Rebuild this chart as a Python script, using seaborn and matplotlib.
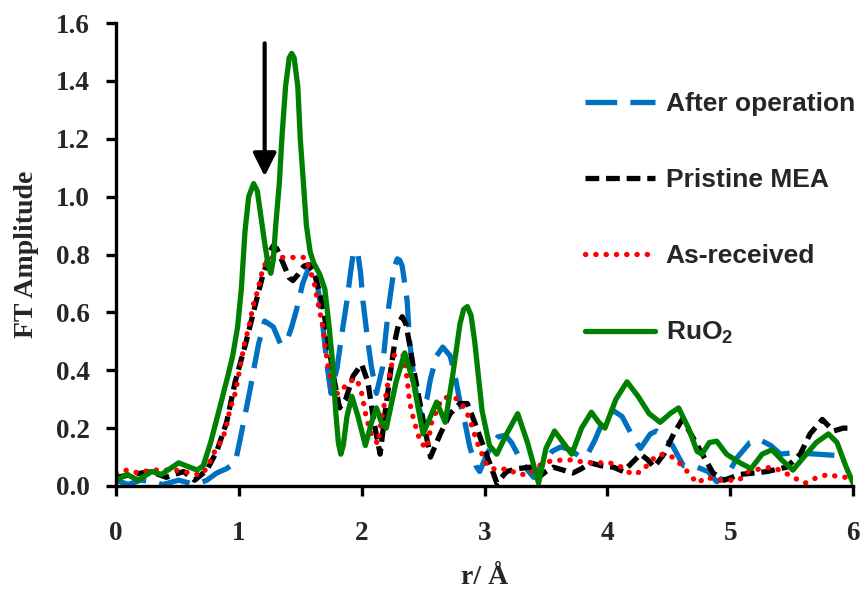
import matplotlib
matplotlib.use("Agg")
import matplotlib.pyplot as plt
import seaborn as sns
import pandas as pd
from matplotlib.lines import Line2D

# ---------------- data ----------------
green_x = [0.00,0.09,0.18,0.29,0.37,0.51,0.66,0.71,0.77,0.85,0.91,0.95,0.99,1.02,1.05,1.08,1.12,1.15,1.18,1.21,1.24,1.26,1.28,1.30,1.33,1.35,1.38,1.41,1.43,1.45,1.48,1.50,1.53,1.55,1.58,1.61,1.66,1.70,1.73,1.76,1.79,1.81,1.83,1.85,1.88,1.92,1.97,2.03,2.08,2.12,2.16,2.20,2.28,2.35,2.42,2.50,2.56,2.61,2.68,2.74,2.80,2.83,2.86,2.89,2.92,2.98,3.04,3.10,3.18,3.27,3.35,3.44,3.50,3.57,3.64,3.71,3.79,3.87,3.93,3.98,4.07,4.16,4.25,4.34,4.43,4.51,4.58,4.66,4.73,4.77,4.83,4.89,4.97,5.08,5.17,5.26,5.34,5.42,5.51,5.60,5.70,5.80,5.87,5.94,6.00]
green_y = [0.02,0.04,0.02,0.05,0.04,0.08,0.055,0.07,0.15,0.28,0.38,0.45,0.55,0.68,0.88,1.00,1.045,1.02,0.93,0.84,0.76,0.735,0.78,0.90,1.05,1.20,1.38,1.48,1.495,1.48,1.38,1.20,1.02,0.90,0.81,0.77,0.73,0.68,0.57,0.44,0.25,0.15,0.11,0.14,0.24,0.31,0.24,0.14,0.22,0.27,0.22,0.20,0.36,0.46,0.36,0.18,0.24,0.29,0.22,0.38,0.56,0.61,0.62,0.59,0.50,0.26,0.14,0.11,0.18,0.25,0.15,0.01,0.13,0.19,0.15,0.11,0.20,0.255,0.22,0.20,0.30,0.36,0.31,0.25,0.22,0.25,0.27,0.20,0.12,0.11,0.15,0.155,0.11,0.08,0.06,0.11,0.125,0.09,0.055,0.10,0.15,0.18,0.15,0.07,0.01]

black_x = [0.00,0.14,0.28,0.41,0.55,0.64,0.74,0.82,0.90,0.97,1.06,1.13,1.19,1.22,1.25,1.28,1.31,1.36,1.41,1.44,1.48,1.53,1.57,1.61,1.65,1.69,1.73,1.77,1.82,1.87,1.93,2.00,2.05,2.10,2.15,2.19,2.23,2.27,2.30,2.33,2.36,2.39,2.42,2.49,2.56,2.64,2.72,2.80,2.86,2.92,2.98,3.05,3.10,3.18,3.27,3.37,3.44,3.50,3.56,3.64,3.72,3.79,3.86,3.95,4.05,4.13,4.20,4.27,4.33,4.38,4.46,4.54,4.61,4.68,4.76,4.86,4.95,5.08,5.20,5.30,5.46,5.57,5.65,5.75,5.84,5.92,6.00]
black_y = [0.03,0.04,0.05,0.03,0.05,0.02,0.055,0.12,0.22,0.36,0.50,0.62,0.72,0.76,0.81,0.83,0.82,0.77,0.72,0.71,0.73,0.76,0.765,0.74,0.68,0.61,0.49,0.38,0.27,0.30,0.38,0.42,0.36,0.22,0.11,0.25,0.38,0.50,0.56,0.585,0.56,0.49,0.41,0.25,0.10,0.18,0.25,0.285,0.285,0.22,0.15,0.07,0.01,0.05,0.06,0.065,0.03,0.05,0.065,0.055,0.045,0.06,0.08,0.07,0.065,0.05,0.08,0.11,0.09,0.065,0.11,0.18,0.23,0.18,0.12,0.045,0.02,0.04,0.045,0.05,0.065,0.11,0.18,0.23,0.19,0.20,0.20]

red_x = [0.00,0.09,0.18,0.28,0.38,0.48,0.56,0.63,0.70,0.75,0.79,0.85,0.89,0.93,0.97,1.01,1.05,1.08,1.12,1.15,1.20,1.27,1.35,1.44,1.54,1.61,1.65,1.68,1.70,1.73,1.78,1.82,1.89,1.96,2.00,2.04,2.08,2.13,2.17,2.20,2.22,2.26,2.30,2.34,2.37,2.39,2.42,2.45,2.48,2.53,2.57,2.65,2.72,2.78,2.82,2.87,2.91,2.94,2.98,3.02,3.10,3.19,3.27,3.36,3.44,3.53,3.63,3.72,3.83,3.93,4.02,4.12,4.20,4.28,4.36,4.43,4.53,4.61,4.67,4.73,4.81,4.90,5.00,5.07,5.15,5.25,5.34,5.43,5.51,5.61,5.71,5.80,5.90,6.00]
red_y = [0.045,0.055,0.045,0.055,0.055,0.055,0.05,0.04,0.04,0.07,0.11,0.15,0.19,0.27,0.32,0.41,0.50,0.545,0.63,0.67,0.76,0.79,0.79,0.79,0.79,0.71,0.62,0.56,0.49,0.40,0.32,0.32,0.36,0.37,0.32,0.23,0.18,0.145,0.25,0.32,0.37,0.45,0.46,0.45,0.37,0.29,0.235,0.19,0.15,0.13,0.22,0.30,0.31,0.30,0.28,0.24,0.19,0.15,0.11,0.07,0.055,0.06,0.04,0.04,0.07,0.085,0.09,0.09,0.08,0.08,0.08,0.065,0.04,0.05,0.09,0.11,0.10,0.07,0.04,0.01,0.03,0.02,0.02,0.02,0.05,0.06,0.065,0.05,0.03,0.01,0.03,0.04,0.03,0.03]

blue_x = [0.00,0.10,0.20,0.30,0.38,0.51,0.60,0.68,0.74,0.82,0.90,0.97,1.01,1.05,1.09,1.12,1.16,1.21,1.28,1.34,1.39,1.43,1.47,1.52,1.57,1.60,1.63,1.66,1.69,1.72,1.75,1.80,1.84,1.88,1.91,1.93,1.95,1.97,1.99,2.01,2.05,2.08,2.12,2.17,2.19,2.22,2.25,2.27,2.29,2.31,2.33,2.37,2.39,2.42,2.45,2.48,2.53,2.56,2.61,2.66,2.72,2.76,2.80,2.84,2.88,2.93,2.96,3.01,3.05,3.11,3.17,3.22,3.27,3.35,3.40,3.48,3.55,3.62,3.70,3.78,3.84,3.90,3.97,4.05,4.12,4.17,4.22,4.27,4.35,4.40,4.47,4.53,4.58,4.62,4.73,4.82,4.89,4.95,5.00,5.06,5.16,5.24,5.33,5.41,5.51,5.71,5.88]
blue_y = [0.02,0.005,0.02,0.015,0.005,0.02,0.01,0.01,0.02,0.045,0.06,0.08,0.16,0.245,0.33,0.40,0.49,0.57,0.55,0.49,0.50,0.55,0.61,0.70,0.755,0.765,0.72,0.64,0.53,0.41,0.32,0.41,0.53,0.64,0.74,0.80,0.815,0.80,0.74,0.64,0.50,0.41,0.32,0.41,0.50,0.62,0.71,0.76,0.785,0.78,0.76,0.64,0.50,0.39,0.30,0.25,0.30,0.37,0.45,0.48,0.45,0.38,0.29,0.22,0.135,0.07,0.05,0.10,0.135,0.17,0.175,0.15,0.11,0.055,0.03,0.08,0.12,0.135,0.125,0.10,0.11,0.16,0.23,0.26,0.24,0.20,0.16,0.13,0.18,0.19,0.17,0.14,0.10,0.07,0.065,0.05,0.015,0.03,0.055,0.10,0.15,0.16,0.14,0.11,0.115,0.11,0.105]

labels = ["After operation", "Pristine MEA", "As-received", "RuO$_2$"]
x_ticks = [0, 1, 2, 3, 4, 5, 6]
y_ticks = [0.0, 0.2, 0.4, 0.6, 0.8, 1.0, 1.2, 1.4, 1.6]

# ---------------- style ----------------
sns.set_theme(style="white")
plt.rcParams["font.family"] = ["Liberation Serif", "DejaVu Serif"]
plt.rcParams["mathtext.fontset"] = "custom"
plt.rcParams["mathtext.rm"] = "Liberation Sans:bold"
plt.rcParams["mathtext.bf"] = "Liberation Sans:bold"
plt.rcParams["mathtext.it"] = "Liberation Sans:bold"

fig = plt.figure(figsize=(8.62, 5.98), dpi=100)
ax = fig.add_axes([0.1346, 0.1873, 0.855, 0.7742])

lw = 3.8
series = [
    (blue_x, blue_y, "#0070C0", (0, (6.0, 2.5)), "butt"),
    (black_x, black_y, "black", (0, (2.6, 1.3)), "butt"),
    (red_x, red_y, "#FF0000", (0, (0.05, 1.9)), "round"),
    (green_x, green_y, "#008000", "-", "round"),
]
handles = []
for (xs, ys, c, ls, cap), lab in zip(series, labels):
    df = pd.DataFrame({"r": xs, "amp": ys})
    sns.lineplot(data=df, x="r", y="amp", ax=ax, color=c, lw=lw,
                 sort=False, estimator=None, legend=False)
    ln = ax.lines[-1]
    ln.set_linestyle(ls)
    ln.set_dash_capstyle(cap)
    ln.set_solid_capstyle("round")
    ln.set_solid_joinstyle("round")
    h = Line2D([0], [0], color=c, lw=lw, linestyle=ls)
    h.set_dash_capstyle(cap)
    handles.append(h)

# arrow
ax.annotate("", xy=(1.21, 1.07), xytext=(1.21, 1.53),
            arrowprops=dict(arrowstyle="-|>,head_length=0.7,head_width=0.35",
                            lw=3, color="black", mutation_scale=20,
                            shrinkA=0, shrinkB=0))

ax.set_xlim(0, 6)
ax.set_ylim(0, 1.6)
ax.set_xticks(x_ticks)
ax.set_yticks(y_ticks)
ax.set_xticklabels([str(t) for t in x_ticks])
ax.set_yticklabels([f"{t:.1f}" for t in y_ticks])
for lab in ax.get_xticklabels() + ax.get_yticklabels():
    lab.set_fontweight("bold")
    lab.set_fontsize(19.5)
ax.tick_params(axis="both", direction="out", length=7, width=2.4, color="black",
               left=True, bottom=True)
ax.tick_params(axis="x", pad=18)
ax.tick_params(axis="y", pad=12)
for s in ["top", "right"]:
    ax.spines[s].set_visible(False)
for s in ["left", "bottom"]:
    ax.spines[s].set_linewidth(2.4)
    ax.spines[s].set_color("black")

ax.set_xlabel("r/ Å", fontsize=20, fontweight="bold", labelpad=14)
ax.set_ylabel("FT Amplitude", fontsize=20, fontweight="bold", labelpad=12)

leg = ax.legend(handles, labels, loc="upper left", bbox_to_anchor=(0.636, 0.851),
                frameon=False, handlelength=2.65, labelspacing=1.97,
                handletextpad=0.42, borderpad=0, borderaxespad=0,
                prop={"family": "Liberation Sans", "weight": "bold", "size": 19})

fig.savefig("out.png", dpi=100)
